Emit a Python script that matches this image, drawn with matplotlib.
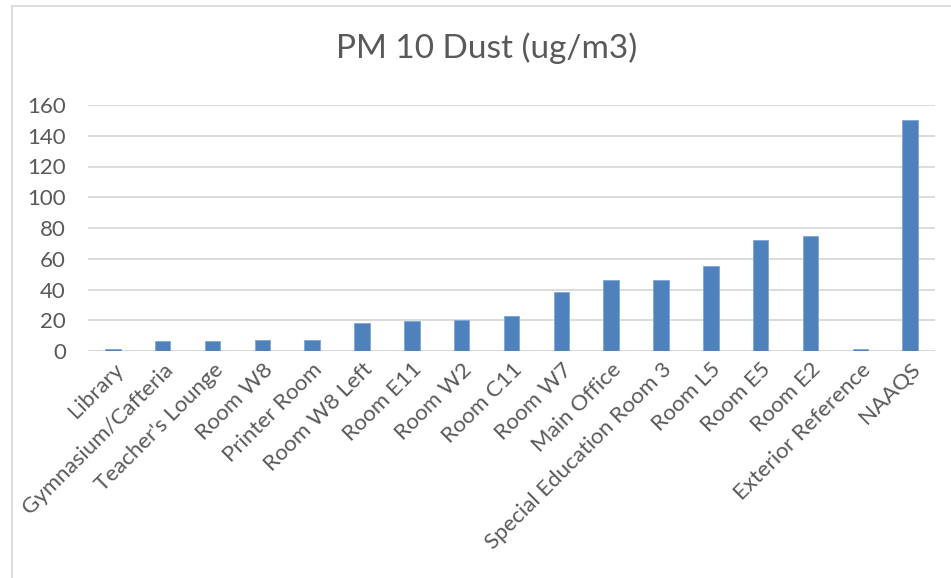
import matplotlib
import matplotlib.pyplot as plt
from matplotlib.lines import Line2D

matplotlib.use("Agg")

rooms = [
    "Library", "Gymnasium/Cafteria", "Teacher's Lounge", "Room W8",
    "Printer Room", "Room W8 Left", "Room E11", "Room W2", "Room C11",
    "Room W7", "Main Office", "Special Education Room 3", "Room L5",
    "Room E5", "Room E2", "Exterior Reference", "NAAQS",
]
pm10 = [1, 6.3, 6.3, 7.2, 7.2, 18.2, 19.3, 20.2, 23, 38.6, 46.2, 46.2,
        55.4, 71.9, 74.7, 1.5, 150]
y_ticks = [0, 20, 40, 60, 80, 100, 120, 140, 160]

text_gray = "#595959"
grid_gray = "#d9d9d9"
bar_blue = "#4f81bd"

plt.rcParams["font.family"] = ["Lato", "DejaVu Sans"]

fig = plt.figure(figsize=(9.51, 5.78), dpi=100)
ax = fig.add_axes([88 / 951, 1 - 351 / 578, (935 - 88) / 951, (351 - 105) / 578])

xs = range(len(rooms))
ax.bar(xs, pm10, width=0.31, color=bar_blue, edgecolor="#7ea6d8",
       linewidth=0.6, zorder=3)

ax.set_xlim(-0.5, len(rooms) - 0.5)
ax.set_ylim(0, 160)
ax.set_yticks(y_ticks)
ax.set_yticklabels([str(v) for v in y_ticks])
ax.yaxis.grid(True, color=grid_gray, linewidth=1.3, zorder=0)
ax.set_axisbelow(True)
for side in ["top", "right", "left", "bottom"]:
    ax.spines[side].set_visible(False)
ax.axhline(0, color=grid_gray, linewidth=1.3, zorder=2)

ax.set_xticks(list(xs))
ax.set_xticklabels(rooms, rotation=45, ha="right", rotation_mode="anchor")
ax.tick_params(axis="both", length=0, labelsize=16, labelcolor=text_gray)
ax.tick_params(axis="y", pad=16)
ax.tick_params(axis="x", pad=6)

fig.text(0.512, 1 - 48 / 578, "PM 10 Dust (ug/m3)", ha="center", va="center",
         fontsize=24, color=text_gray)

# chart border (cropped at right and bottom)
fig.add_artist(Line2D([12 / 951, 12 / 951], [0, 1 - 6 / 578],
                      transform=fig.transFigure, color=grid_gray, linewidth=1.3))
fig.add_artist(Line2D([12 / 951, 1], [1 - 6 / 578, 1 - 6 / 578],
                      transform=fig.transFigure, color=grid_gray, linewidth=1.3))

fig.savefig("out.png", dpi=100)
